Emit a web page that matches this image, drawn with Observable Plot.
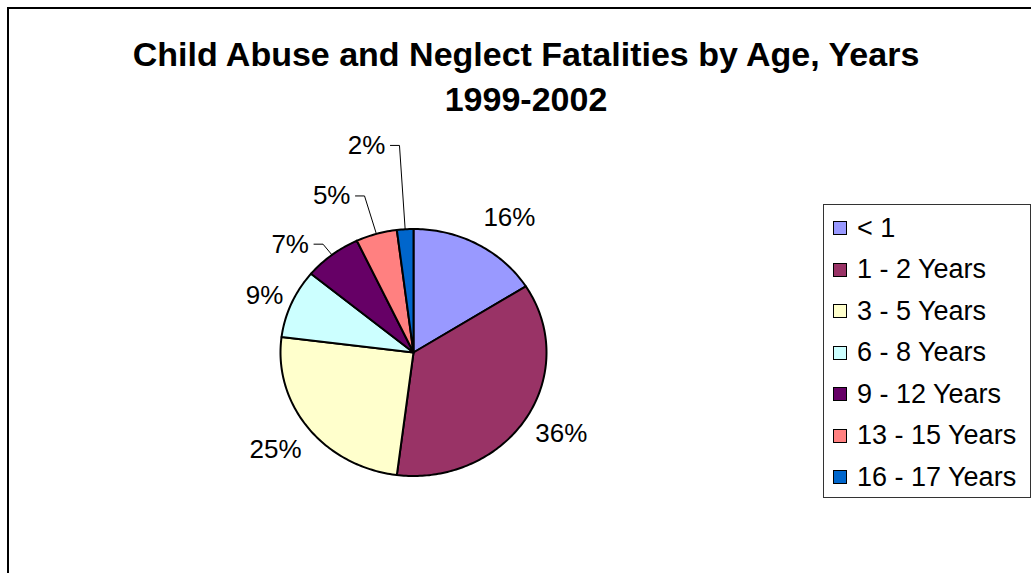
<!DOCTYPE html>
<html>
<head>
<meta charset="utf-8">
<script src="https://cdn.jsdelivr.net/npm/d3@7"></script>
<script src="https://cdn.jsdelivr.net/npm/@observablehq/plot@0.6"></script>
<style>
  html, body { margin: 0; padding: 0; background: #fff; }
  body { font-family: Arial, "Liberation Sans", sans-serif; }
  #wrap { position: relative; width: 1031px; height: 573px; overflow: hidden; }
  #frame { position: absolute; left: 7px; top: 7px; width: 1100px; height: 700px; border: 2px solid #000; box-sizing: border-box; pointer-events: none; }
  #chart { position: absolute; left: 0; top: 0; }
  #legend { position: absolute; left: 823px; top: 204px; width: 208px; height: 294px; border: 1px solid #333; box-sizing: border-box; background: #fff; }
  .item { position: absolute; left: 9px; height: 30px; display: flex; align-items: center; font-size: 27px; color: #000; white-space: nowrap; }
  .sw { width: 12px; height: 12px; border: 1px solid #000; margin-right: 10px; flex: none; }
</style>
</head>
<body>
<div id="wrap">
  <div id="chart"></div>
  <div id="frame"></div>
  <div id="legend"></div>
</div>
<script>
// ---- data ----
const ages = ["< 1", "1 - 2 Years", "3 - 5 Years", "6 - 8 Years", "9 - 12 Years", "13 - 15 Years", "16 - 17 Years"];
const shares = [16, 36, 25, 9, 7, 5, 2];
const palette = ["#9999FF", "#993366", "#FFFFCC", "#CCFFFF", "#660066", "#FF8080", "#0066CC"];
const titleText = "Child Abuse and Neglect Fatalities by Age, Years\n1999-2002";

// ---- label layout (normalised radius from pie centre, angle nudge in degrees, leader flag) ----
const labelRadius = [1.31, 1.29, 1.30, 1.21, 1.11, 1.32, 1.68];
const labelNudge = [4.6, -1.9, 0.7, -1.1, 0, 0, 0];
const hasLeader = [false, false, false, false, true, true, true];

// ---- geometry from the data ----
const arcs = d3.pie().sort(null).value(d => d)(shares);
const slicePts = [];
arcs.forEach((a, i) => {
  slicePts.push({name: ages[i], x: 0, y: 0});
  const n = Math.max(2, Math.ceil((a.endAngle - a.startAngle) / (Math.PI / 180)));
  for (let k = 0; k <= n; k++) {
    const t = a.startAngle + (a.endAngle - a.startAngle) * k / n;
    slicePts.push({name: ages[i], x: Math.sin(t), y: Math.cos(t)});
  }
  slicePts.push({name: ages[i], x: 0, y: 0});
});

const hLeg = 0.068; // horizontal leg of a leader, in x units
const labels = [];
const leaders = [];
arcs.forEach((a, i) => {
  const mid = (a.startAngle + a.endAngle) / 2;
  const ang = mid + labelNudge[i] * Math.PI / 180;
  const r = labelRadius[i];
  const ex = r * Math.sin(ang), ey = r * Math.cos(ang);
  if (hasLeader[i]) {
    leaders.push({k: i, x: Math.sin(mid), y: Math.cos(mid)});
    leaders.push({k: i, x: ex, y: ey});
    leaders.push({k: i, x: ex - hLeg, y: ey});
    labels.push({text: shares[i] + "%", x: ex - hLeg, y: ey, anchor: "end"});
  } else {
    labels.push({text: shares[i] + "%", x: ex, y: ey, anchor: "middle"});
  }
});

const chart = Plot.plot({
  width: 1031,
  height: 573,
  margin: 0,
  style: {fontFamily: "Arial, 'Liberation Sans', sans-serif", background: "transparent"},
  x: {domain: [-1, 1], range: [280, 546], axis: null},
  y: {domain: [-1, 1], range: [475.5, 228.5], axis: null},
  color: {domain: ages, range: palette},
  marks: [
    Plot.line(slicePts, {x: "x", y: "y", z: "name", fill: "name", stroke: "#000", strokeWidth: 2, strokeLinejoin: "round", curve: "linear"}),
    Plot.line(leaders, {x: "x", y: "y", z: "k", stroke: "#000", strokeWidth: 1}),
    Plot.text(labels.filter(d => d.anchor === "middle"), {x: "x", y: "y", text: "text", fontSize: 26, fill: "#000", textAnchor: "middle"}),
    Plot.text(labels.filter(d => d.anchor === "end"), {x: "x", y: "y", text: "text", fontSize: 26, fill: "#000", textAnchor: "end", dx: -5}),
    Plot.text([titleText], {text: d => d, frameAnchor: "top", dx: 10, dy: 34, fontSize: 34, fontWeight: "bold", fill: "#000", lineHeight: 1.32})
  ]
});
document.getElementById("chart").appendChild(chart);

// ---- legend ----
const color = chart.scale("color");
const legend = document.getElementById("legend");
ages.forEach((name, i) => {
  const it = document.createElement("div");
  it.className = "item";
  it.style.top = (8 + i * 41.5) + "px";
  const sw = document.createElement("span");
  sw.className = "sw";
  sw.style.background = color.apply(name);
  const tx = document.createElement("span");
  tx.textContent = name;
  it.appendChild(sw);
  it.appendChild(tx);
  legend.appendChild(it);
});
</script>
</body>
</html>
